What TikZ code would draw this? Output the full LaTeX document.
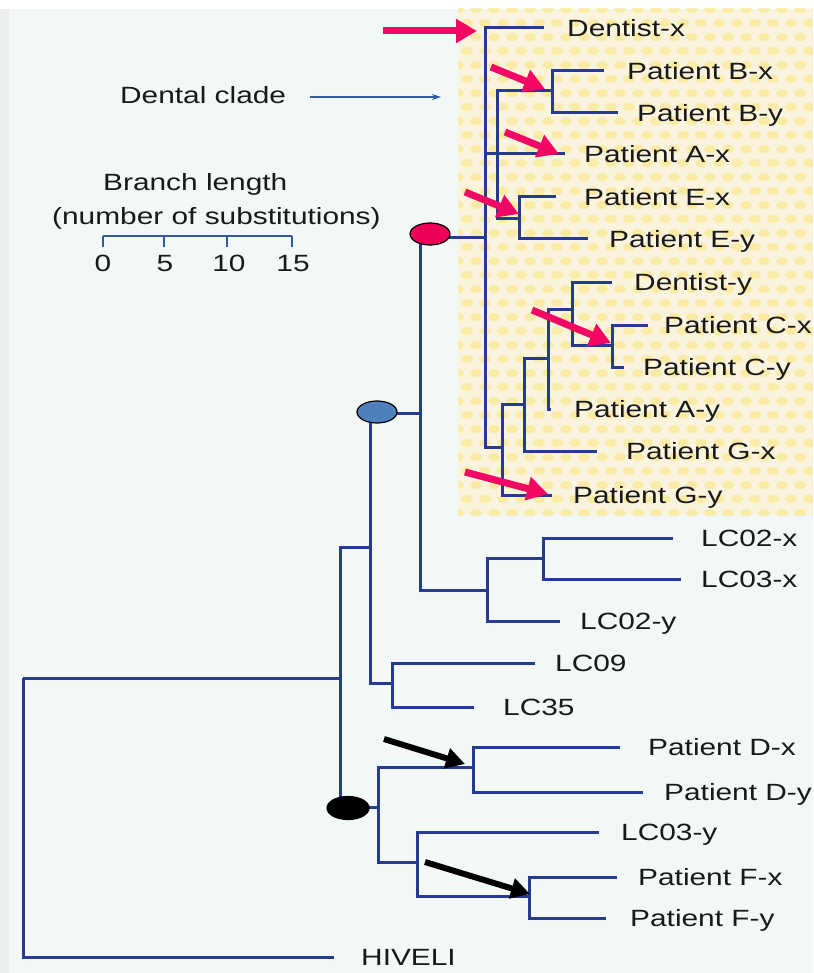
\documentclass[tikz,border=0pt]{standalone}
\usepackage{fontspec}
\setmainfont{Liberation Sans}[FakeStretch=1.27]
\usetikzlibrary{arrows.meta,shapes.geometric}

\definecolor{treeblue}{RGB}{38,58,145}
\definecolor{bgmint}{RGB}{242,248,246}
\definecolor{edgegray}{RGB}{236,239,237}
\definecolor{cream}{RGB}{250,244,222}
\definecolor{blob}{RGB}{249,228,130}
\definecolor{hotpink}{RGB}{242,8,100}
\definecolor{ovalred}{RGB}{236,0,88}
\definecolor{ovalblue}{RGB}{79,129,189}
\definecolor{ink}{RGB}{25,25,25}
\definecolor{cladeblue}{RGB}{50,90,160}

\tikzset{
  branch/.style={draw=treeblue, line width=3pt},
  leaf/.style={anchor=base west, inner sep=0pt, text=ink, font=\fontsize{23.5}{28}\selectfont},
  caption/.style={leaf},
  tick label/.style={anchor=base, inner sep=0pt, text=ink, font=\fontsize{23.5}{28}\selectfont},
  pinkarrow/.style={draw=hotpink, line width=7pt, -{Triangle[length=21pt,width=23pt]}},
  blackarrow/.style={draw=black, line width=6pt, -{Triangle[length=19pt,width=20pt]}},
  oval/.style={ellipse, draw=black, line width=1.2pt, minimum width=40pt, minimum height=22pt, inner sep=0pt},
  scalebar/.style={draw=cladeblue, line width=1.4pt},
  cladearrow/.style={draw=cladeblue, line width=1.1pt, -{Stealth[length=9pt,width=6pt]}}
}

\begin{document}
\begin{tikzpicture}[x=1pt,y=-1pt]
\clip (0,0) rectangle (813,973);

% paper and shaded clade panel
\fill[white] (0,0) rectangle (813,973);
\fill[edgegray] (0,9) rectangle (9,973);
\fill[bgmint] (9,9) rectangle (813,973);
\fill[cream] (458,9) rectangle (813,515);
\begin{scope}
  \clip (458,9) rectangle (813,515);
  \foreach \i in {0,...,20}
    \foreach \j in {0,...,37}
      \fill[blob, opacity=0.6] ({458+18*\i+9*mod(\j,2)},{9+14*\j}) ellipse [x radius=6, y radius=4];
\end{scope}

% internal nodes (vertical bar x, stem y)
\coordinate (root)  at (23,678);
\coordinate (n340)  at (340,678);
\coordinate (nblue) at (370,547);
\coordinate (nred)  at (420,413);
\coordinate (ndent) at (485,238);
\coordinate (n497)  at (497,154);
\coordinate (nB)    at (552,91);
\coordinate (nE)    at (519,219);
\coordinate (nG)    at (502,447);
\coordinate (n524)  at (524,404);
\coordinate (n548)  at (548,358);
\coordinate (n572)  at (572,309);
\coordinate (nC)    at (612,345);
\coordinate (nLC02) at (487,590);
\coordinate (n543)  at (543,558);
\coordinate (nLC09) at (392,683);
\coordinate (nblack) at (378,807);
\coordinate (nD)    at (473,767);
\coordinate (n417)  at (417,862);
\coordinate (nF)    at (529,896);

% branch tips
\coordinate (tDx)  at (544,28);
\coordinate (tBx)  at (604,71);
\coordinate (tBy)  at (618,113);
\coordinate (tAx)  at (565,154);
\coordinate (tEx)  at (556,197);
\coordinate (tEy)  at (588,239);
\coordinate (tDy)  at (612,282);
\coordinate (tCx)  at (648,325);
\coordinate (tCy)  at (624,367);
\coordinate (tAy)  at (551,409);
\coordinate (tGx)  at (597,451);
\coordinate (tGy)  at (552,495);
\coordinate (tL2x) at (673,538);
\coordinate (tL3x) at (681,579);
\coordinate (tL2y) at (560,621);
\coordinate (tL9)  at (535,663);
\coordinate (tL35) at (474,707);
\coordinate (tPDx) at (620,747);
\coordinate (tPDy) at (643,792);
\coordinate (tL3y) at (599,832);
\coordinate (tFx)  at (617,877);
\coordinate (tFy)  at (606,918);
\coordinate (tHIV) at (334,957);

% branches
\draw[branch] (root) |- (n340);
\draw[branch] (root) |- (tHIV);
\draw[branch] (n340) |- (nblue);
\draw[branch] (n340) |- (nblack);
\draw[branch] (nblue) |- (nred);
\draw[branch] (nblue) |- (nLC09);
\draw[branch] (nred) |- (ndent);
\draw[branch] (nred) |- (nLC02);
\draw[branch] (ndent) |- (tDx);
\draw[branch] (ndent) |- (n497);
\draw[branch] (ndent) |- (nG);
\draw[branch] (n497) |- (nB);
\draw[branch] (n497) |- (tAx);
\draw[branch] (n497) |- (nE);
\draw[branch] (nB) |- (tBx);
\draw[branch] (nB) |- (tBy);
\draw[branch] (nE) |- (tEx);
\draw[branch] (nE) |- (tEy);
\draw[branch] (nG) |- (n524);
\draw[branch] (nG) |- (tGy);
\draw[branch] (n524) |- (n548);
\draw[branch] (n524) |- (tGx);
\draw[branch] (n548) |- (n572);
\draw[branch] (n548) |- (tAy);
\draw[branch] (n572) |- (tDy);
\draw[branch] (n572) |- (nC);
\draw[branch] (nC) |- (tCx);
\draw[branch] (nC) |- (tCy);
\draw[branch] (nLC02) |- (n543);
\draw[branch] (nLC02) |- (tL2y);
\draw[branch] (n543) |- (tL2x);
\draw[branch] (n543) |- (tL3x);
\draw[branch] (nLC09) |- (tL9);
\draw[branch] (nLC09) |- (tL35);
\draw[branch] (nblack) |- (nD);
\draw[branch] (nblack) |- (n417);
\draw[branch] (nD) |- (tPDx);
\draw[branch] (nD) |- (tPDy);
\draw[branch] (n417) |- (tL3y);
\draw[branch] (n417) |- (nF);
\draw[branch] (nF) |- (tFx);
\draw[branch] (nF) |- (tFy);

% marked nodes
\node[oval, fill=ovalred]  (redmark)   at (430,234) {};
\node[oval, fill=ovalblue] (bluemark)  at (377,412) {};
\node[oval, fill=black, minimum width=42pt, minimum height=23pt] (blackmark) at (348,808) {};

% leaf labels
\node[leaf] (lDx)  at (567,36.5)  {Dentist-x};
\node[leaf] (lBx)  at (627,79.5)  {Patient B-x};
\node[leaf] (lBy)  at (637,121.5) {Patient B-y};
\node[leaf] (lAx)  at (584,162.5) {Patient A-x};
\node[leaf] (lEx)  at (584,205.5) {Patient E-x};
\node[leaf] (lEy)  at (609,247.5) {Patient E-y};
\node[leaf] (lDy)  at (634,290.5) {Dentist-y};
\node[leaf] (lCx)  at (664,333.5) {Patient C-x};
\node[leaf] (lCy)  at (643,375.5) {Patient C-y};
\node[leaf] (lAy)  at (574,417.5) {Patient A-y};
\node[leaf] (lGx)  at (626,459.5) {Patient G-x};
\node[leaf] (lGy)  at (573,503.5) {Patient G-y};
\node[leaf] (lL2x) at (701,546.5) {LC02-x};
\node[leaf] (lL3x) at (701,587.5) {LC03-x};
\node[leaf] (lL2y) at (580,629.5) {LC02-y};
\node[leaf] (lL9)  at (555,671.5) {LC09};
\node[leaf] (lL35) at (503,715.5) {LC35};
\node[leaf] (lPDx) at (648,755.5) {Patient D-x};
\node[leaf] (lPDy) at (664,800.5) {Patient D-y};
\node[leaf] (lL3y) at (621,840.5) {LC03-y};
\node[leaf] (lFx)  at (638,885.5) {Patient F-x};
\node[leaf] (lFy)  at (630,926.5) {Patient F-y};
\node[leaf] (lHIV) at (361,965.5) {HIVELI};

% clade caption
\node[caption] (clade) at (120,104) {Dental clade};
\coordinate (cladeA) at (310,97);
\coordinate (cladeB) at (441,97);
\draw[cladearrow] (cladeA) -- (cladeB);

% scale bar
\node[caption] (blen) at (103,191) {Branch length};
\node[caption] (bsub) at (52,225) {(number of substitutions)};
\coordinate (s0) at (103,236);
\coordinate (s5) at (164,236);
\coordinate (s10) at (227,236);
\coordinate (s15) at (292,236);
\draw[scalebar] (s0) -- (s15);
\foreach \s in {s0,s5,s10,s15}
  \draw[scalebar] (\s) -- ++(0,11);
\node[tick label] (k0)  at (103,272) {0};
\node[tick label] (k5)  at (165,272) {5};
\node[tick label] (k10) at (229,272) {10};
\node[tick label] (k15) at (293,272) {15};

% highlight arrows
\coordinate (pa1) at (383,31);  \coordinate (pb1) at (477,31);
\coordinate (pa2) at (491,67);  \coordinate (pb2) at (545,89);
\coordinate (pa3) at (505,132); \coordinate (pb3) at (559,154);
\coordinate (pa4) at (465,192); \coordinate (pb4) at (519,214);
\coordinate (pa5) at (532,310); \coordinate (pb5) at (611,343);
\coordinate (pa6) at (465,472); \coordinate (pb6) at (548,494);
\foreach \k in {1,...,6}
  \draw[pinkarrow] (pa\k) -- (pb\k);

\coordinate (ba1) at (384,739); \coordinate (bb1) at (465,764);
\coordinate (ba2) at (425,862); \coordinate (bb2) at (530,894);
\draw[blackarrow] (ba1) -- (bb1);
\draw[blackarrow] (ba2) -- (bb2);
\end{tikzpicture}
\end{document}
